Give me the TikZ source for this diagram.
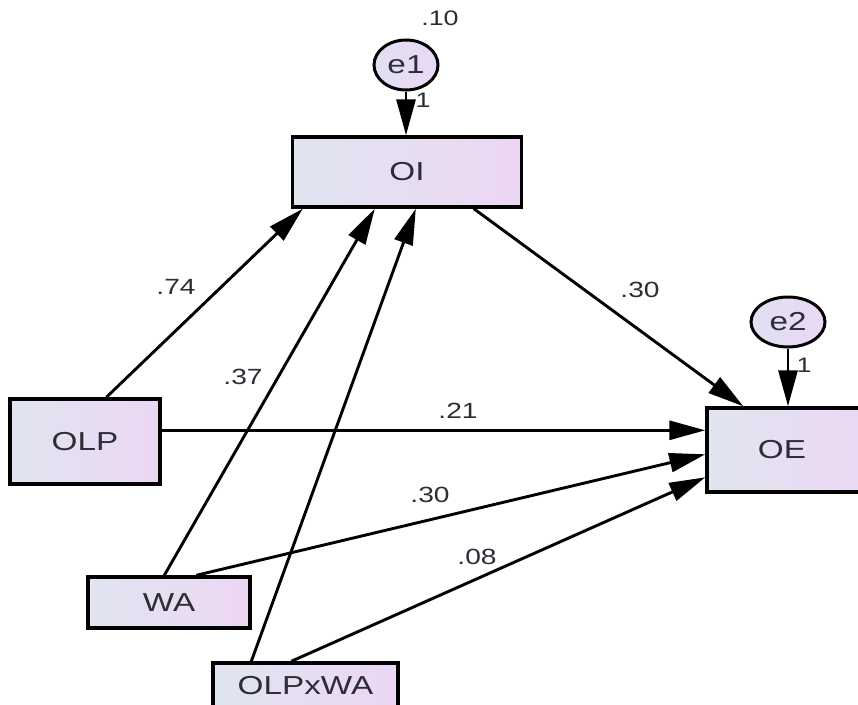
\documentclass[tikz,border=0pt]{standalone}
\usepackage{fontspec}
\setmainfont{Liberation Sans}[FakeStretch=1.28]
\usetikzlibrary{arrows.meta,shapes.geometric}
\definecolor{boxL}{RGB}{224,229,240}
\definecolor{boxR}{RGB}{237,214,243}
\definecolor{errL}{RGB}{226,224,242}
\definecolor{errR}{RGB}{234,216,244}
\definecolor{txt}{RGB}{45,45,55}
\tikzset{
  var/.style={rectangle, draw=black, line width=3.4pt, left color=boxL, right color=boxR,
    inner sep=0pt, text=txt, font=\fontsize{26}{30}\selectfont},
  err/.style={ellipse, draw=black, line width=3pt, left color=errL, right color=errR,
    inner sep=0pt, text=txt, font=\fontsize{26}{30}\selectfont},
  conn/.style={line width=2.9pt, -{Triangle[length=36pt,width=19pt]}},
  lab/.style={inner sep=0pt, text=txt, font=\fontsize{22}{26}\selectfont},
  slab/.style={inner sep=0pt, text=txt, font=\fontsize{21}{24}\selectfont}
}
\begin{document}
\begin{tikzpicture}[x=1pt,y=-1pt]
\useasboundingbox[fill=white] (0,0) rectangle (858,704);
% nodes
\node[var, minimum width=229pt, minimum height=70pt] (OI) at (407,172) {OI};
\node[var, minimum width=150pt, minimum height=85pt] (OLP) at (85,441.5) {OLP};
\node[var, minimum width=162pt, minimum height=51pt] (WA) at (169,602.5) {WA};
\node[var, minimum width=185pt, minimum height=46pt] (OLPxWA) at (305.5,686) {OLPxWA};
\node[var, minimum width=170pt, minimum height=84pt] (OE) at (792,450) {};
\node[text=txt, font=\fontsize{26}{30}\selectfont, inner sep=0pt] (OEt) at (782,450) {OE};
\node[err, minimum width=64pt, minimum height=50pt] (e1) at (406,65) {e1};
\node[err, minimum width=74pt, minimum height=50pt] (e2) at (788,322) {e2};
% connectors
\draw[conn] (e1.south) -- (e1.south |- OI.north);
\draw[conn] (e2.south) -- (e2.south |- OE.north);
\draw[conn] ([xshift=98pt]OLP.north west) -- ([xshift=12pt]OI.south west);
\draw[conn] ([xshift=78pt]WA.north west) -- ([xshift=84pt]OI.south west);
\draw[conn] ([xshift=40pt]OLPxWA.north west) -- ([xshift=125pt]OI.south west);
\draw[conn] ([xshift=183pt]OI.south west) -- ([xshift=38pt]OE.north west);
\draw[conn] ([yshift=-33pt]OLP.north east) -- ([yshift=-24pt]OE.north west);
\draw[conn] ([xshift=110pt]WA.north west) -- ([yshift=-48pt]OE.north west);
\draw[conn] ([xshift=80pt]OLPxWA.north west) -- ([yshift=-71pt]OE.north west);
% labels
\node[slab] (l10) at (440,18) {.10};
\node[slab] (l1a) at (423,100) {1};
\node[slab] (l1b) at (804,365) {1};
\node[lab] (l74) at (176,287) {.74};
\node[lab] (l37) at (243,377) {.37};
\node[lab] (l21) at (458,411) {.21};
\node[lab] (l30a) at (640,290) {.30};
\node[lab] (l30b) at (430,495) {.30};
\node[lab] (l08) at (477,557) {.08};
\end{tikzpicture}
\end{document}
